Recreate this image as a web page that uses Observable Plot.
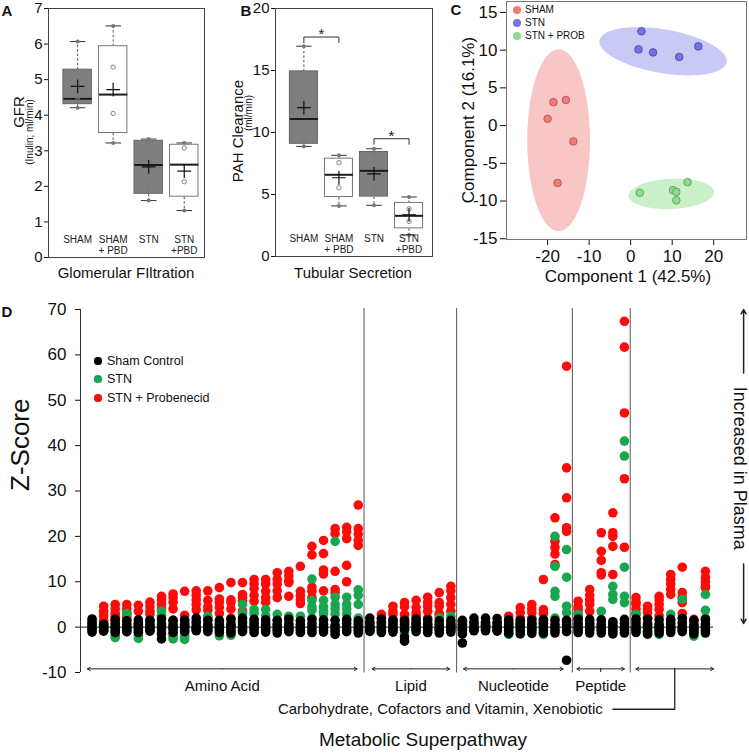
<!DOCTYPE html>
<html><head><meta charset="utf-8">
<script src="https://cdn.jsdelivr.net/npm/d3@7"></script>
<script src="https://cdn.jsdelivr.net/npm/@observablehq/plot@0.6"></script>
<style>
body{margin:0;background:#fff;font-family:"Liberation Sans",Arial,sans-serif;color:#111;}
#root{position:relative;width:749px;height:753px;overflow:hidden;background:#fff;}
.abs{position:absolute;white-space:nowrap;line-height:1;}
.pl{position:absolute;}
.pl svg{overflow:visible;}
</style></head><body><div id="root"></div>
<script>
// ---------- Panel A: GFR (Inulin) ----------
const boxGroups = ["SHAM", "SHAM\n+ PBD", "STN", "STN\n+PBD"];
const boxFilled = [true, false, true, false];
const gfrMin  = [4.21, 3.22, 1.60, 1.32];
const gfrQ1   = [4.31, 3.50, 1.79, 1.71];
const gfrMed  = [4.46, 4.58, 2.60, 2.61];
const gfrQ3   = [5.28, 5.94, 3.28, 3.17];
const gfrMax  = [6.07, 6.51, 3.33, 3.22];
const gfrMean = [4.81, 4.72, 2.55, 2.43];
const gfrPts  = [[4.42, 4.52], [5.35, 4.05], [3.25, 1.97], [3.08, 2.13]];
const gfrTicks = [0, 1, 2, 3, 4, 5, 6, 7];

// ---------- Panel B: PAH clearance ----------
const pahMin  = [8.88, 4.08, 4.13, 1.73];
const pahQ1   = [9.09, 4.80, 4.83, 2.27];
const pahMed  = [11.09, 6.59, 6.91, 3.28];
const pahQ3   = [14.93, 7.89, 8.43, 4.32];
const pahMax  = [16.96, 8.16, 8.69, 4.80];
const pahMean = [12.0, 6.35, 6.67, 3.35];
const pahPts  = [[12.9, 9.33], [7.57, 5.55], [8.21, 5.55], [3.84, 2.83]];
const pahTicks = [0, 5, 10, 15, 20];
const sigFrom = [1, 3];
const sigTo   = [2, 4];
const sigY    = [17.7, 9.5];

// ---------- Panel C: PCA ----------
const pcaGroups = ["SHAM", "STN", "STN + PROB"];
const pc1Sham = [-20.0, -18.6, -15.6, -13.8, -17.6];
const pc2Sham = [0.9, 3.1, 3.4, -2.1, -7.6];
const pc1Stn  = [2.6, 1.9, 5.4, 11.7, 16.3];
const pc2Stn  = [12.5, 10.1, 9.7, 9.1, 10.5];
const pc1Prob = [2.2, 10.2, 11.0, 11.0, 13.7];
const pc2Prob = [-8.9, -8.55, -8.8, -9.9, -7.5];
const pcaXTicks = [-20, -10, 0, 10, 20];
const pcaYTicks = [-15, -10, -5, 0, 5, 10, 15];
// ellipse centre and semi-axis vectors (data units)
const ellCx = [-17.35, 7.8, 9.8];
const ellCy = [-1.95, 9.85, -9.05];
const ellAx = [7.55, 15.3, 10.3];
const ellAy = [0, -1.45, 0.25];
const ellBx = [0, 0.9, -0.1];
const ellBy = [12.05, 2.85, 2.0];
const pcaFill   = ["#ef7b7b", "#7474e2", "#8ddc8d"];
const pcaStroke = ["#a84d4d", "#40409c", "#4e9c4e"];
const ellFill   = ["#f9c6c6", "#c9c9f6", "#caf0ca"];

// ---------- Panel D: metabolite Z-scores ----------
const pathwayNames = ["Amino Acid", "Lipid", "Nucleotide", "Peptide", "Carbohydrate, Cofactors and Vitamin, Xenobiotic"];
const pathwayCounts = [24, 8, 10, 5, 7];
const arrowFrom = [-0.4, 24.2, 32.1, 41.9, 47.0];
const arrowTo   = [22.9, 30.9, 40.7, 46.0, 53.7];
const zTicks = [-10, 0, 10, 20, 30, 40, 50, 60, 70];
const seriesNames = ["Sham Control", "STN", "STN + Probenecid"];
const seriesColors = ["#000000", "#1aa64f", "#ff0a0a"];
const shamZ = [
[1.8,0.9,0.1,-0.6,-1.1],[0.6,0.2,-0.3,-0.7,-0.9],[1.7,0.8,0,-0.7,-1.2],[1.4,0.5,-0.1,-0.5,-1.0],
[1.6,0.7,0,-0.6,-1.2],[1.5,0.5,0,-0.5,-0.9],[1.8,0.5,-0.3,-1.5,-2.6],[1.5,0.5,0,-0.5,-1.2],
[1.6,0.5,0,-0.5,-1.0],[2.0,1.0,0,-0.5,-0.8],[1.5,0.5,0,-0.5,-1.0],[1.5,0.5,0,-0.5,-1.2],
[1.7,0.5,0,-0.7,-1.3],[2.0,1.0,0,-0.5,-1.0],[1.7,0.8,0,-0.5,-1.2],[1.6,0.6,0,-0.6,-1.1],
[1.5,0.6,-0.1,-0.7,-1.3],[1.8,0.7,0,-0.5,-1.0],[1.4,0.5,-0.2,-0.7,-1.2],[1.7,0.8,0.1,-0.6,-1.2],
[1.6,0.6,-0.1,-0.6,-1.1],[1.5,0.4,-0.3,-0.9,-1.6],[1.7,0.8,0,-0.5,-1.0],[1.4,0.5,-0.2,-0.7,-1.3],
[2.0,1.0,0,-0.5,-0.9],[1.8,1.0,0,-0.7,-1.2],[1.6,0.7,0,-0.6,-1.1],[1.5,0.5,-0.5,-2.2,-3.1],
[1.8,0.8,0,-0.5,-1.0],[1.6,0.6,0,-0.6,-1.2],[1.4,0.5,-0.2,-0.7,-1.3],[1.5,0.6,0,-0.6,-1.1],
[1.5,0.5,-0.5,-1.5,-3.5],[2.0,1.0,0,-0.5,-0.8],[2.0,1.0,0.2,-0.4,-0.8],[1.9,1.0,0.1,-0.5,-0.9],
[1.6,0.7,0,-0.7,-1.4],[1.5,0.6,-0.1,-0.8,-1.5],[1.6,0.6,-0.2,-0.8,-1.4],[1.7,0.8,0,-0.6,-1.3],
[1.5,0.6,-0.1,-0.7,-1.3],[1.5,0.5,0,-1.0,-7.3],
[1.8,0.8,0,-0.6,-1.2],[1.7,0.8,0,-0.6,-1.3],[1.6,0.7,0,-0.7,-1.3],[1.2,0.4,-0.3,-0.9,-1.5],[1.7,0.8,0,-0.6,-1.3],
[1.8,0.9,0,-0.6,-1.2],[1.8,0.6,-0.2,-0.9,-1.5],[1.6,0.6,-0.1,-0.7,-1.3],[1.7,0.8,0,-0.6,-1.2],
[1.9,0.9,0.1,-0.5,-1.0],[1.5,0.4,-0.3,-0.9,-1.5],[1.7,0.7,-0.1,-0.7,-1.3]
];
const stnZ = [
[0.5,-0.5,0.2,1.0,-0.3],[0,0.3,-0.3,0.5,0],[-2.3,-1.8,0.5,-1.0,0],[3.0,1.0,0,-0.5,-1.0],
[-2.5,-1.8,-1.0,0,0.5],[1.0,0,0.5,-0.5,0],[3.5,2.5,1.0,0,-1.0],[-2.6,-2.0,-1.5,0,1.0],
[-2.7,-2.0,-1.0,0,0.5],[1.5,0.5,0,-0.5,0],[2.4,1.5,0.5,0,-0.5],[-1.9,-1.0,0,1.0,0.5],
[-1.8,-1.0,0,0.5,1.0],[5.0,3.0,1.5,0.5,0],[3.9,3.0,1.5,0.5,0],[3.9,2.5,1.0,0,-0.5],
[2.8,1.5,0.5,0,-0.5],[2.4,1.5,0.5,0,-0.5],[2.4,1.5,0.5,0,-0.3],[10.6,5.9,4.5,3.7,2.0],
[5.9,4.5,3.5,2.9,1.5],[18.9,6.6,5.0,4.0,2.9],[6.6,5.0,4.0,2.9,1.5],[8.2,7.0,5.0,2.0,1.0],
[-1.0,-0.5,0,0.5,0],[0.5,0,-0.5,1.0,0],[1.0,0.5,0,-0.5,0],[-1.2,-0.5,0,0.5,1.0],
[1.0,0.5,0,-0.5,0],[-1.2,-0.5,0,0.5,1.0],[2.0,1.0,0,-0.5,0.5],[2.4,1.0,0,-0.5,0.5],
[0,-0.5,0.5,0,-1.0],[0.5,0,-0.5,0.3,0],[0.5,0,-0.5,0.3,0],[0.5,0,-0.5,0.3,0],
[-1.6,-1.0,0,0.5,0],[0.5,0,-0.5,1.0,0],[0.5,0,-0.5,1.0,0],[-1.6,-1.0,0,0.5,0],
[20.0,13.4,7.9,6.8,2.0],[17.1,11.0,4.6,3.2,1.0],
[2.8,1.5,0.5,0,-0.5],[1.5,0.5,0,-0.5,0],[3.5,1.5,0.5,0,-0.5],[9.0,7.2,6.1,1.0,0],[41.0,37.7,13.2,6.8,5.4],
[2.8,1.5,0.5,0,-0.5],[-1.6,-1.0,0,0.5,0],[-1.6,-0.8,0,0.5,0],[2.8,1.5,0.5,0,-0.5],
[6.1,2.0,1.0,0,-0.5],[-2.0,-1.5,-0.5,0,0.5],[7.2,3.7,2.0,0.5,0]
];
const probZ = [
[1.0,0.5,0,1.5,-0.2],[4.6,3.5,2.5,1.5,1.0],[5.0,4.0,3.0,2.4,1.5],[5.0,4.0,3.2,2.5,1.8],
[4.8,3.5,1.0,0.5,0],[5.5,4.5,3.5,2.8,1.5],[6.8,6.0,5.0,4.0,2.5],[7.3,6.5,5.5,4.0,1.5],
[7.9,2.6,1.5,1.0,0.5],[8.0,7.0,6.0,5.0,3.8],[8.0,5.9,4.5,3.7,2.0],[8.7,6.2,5.5,4.4,3.0],
[9.8,6.0,5.4,4.0,2.0],[9.8,7.2,6.5,5.7,3.5],[10.5,9.5,8.5,7.0,5.7],[10.5,9.5,7.9,6.5,5.5],
[12.0,10.5,9.5,8.0,6.5],[12.3,11.3,10.3,9.8,6.8],[13.4,7.9,7.0,6.0,5.2],[17.8,15.9,8.8,7.9,6.5],
[19.1,16.2,12.6,11.7,8.0],[21.7,20.6,12.3,8.3,7.5],[22.0,21.0,19.5,13.6,10.0],[26.9,21.7,20.5,19.1,18.0],
[0.6,0,1.0,-0.3,0.3],[2.8,2.0,1.0,0.5,0],[4.6,3.5,2.8,1.5,1.0],[5.4,4.5,2.8,2.0,1.0],
[5.9,4.3,3.2,2.5,1.5],[6.6,5.5,4.6,3.5,2.0],[7.6,5.4,4.6,3.0,2.5],[9.0,8.0,6.5,5.0,3.5],
[1.3,0.5,0,-0.5,1.0],[0.5,0,1.0,0.3,0],[0.5,0,1.0,0.3,0],[0.5,0,1.0,0.3,0],
[2.4,1.5,1.0,0.5,0],[4.3,3.2,2.0,1.0,0.5],[5.0,4.0,3.2,2.0,1.0],[10.5,3.9,3.0,1.5,1.0],
[24.1,18.9,17.5,16.1,13.8],[57.5,35.1,28.5,21.9,21.1],
[5.7,4.5,3.9,3.0,2.0],[8.3,7.0,6.0,5.0,3.5],[20.8,16.7,14.7,12.0,11.5],[25.2,20.8,20.0,17.8,11.6],[67.4,61.7,47.2,32.7,17.6],
[6.5,5.5,5.0,4.0,3.0],[4.6,4.0,3.2,2.0,1.0],[6.8,6.0,5.0,3.9,2.5],[11.6,10.5,9.5,8.3,7.2],
[13.2,7.6,6.5,5.4,3.0],[1.7,1.0,0.5,0,-0.5],[12.3,11.0,10.0,9.0,8.7]
];

// ================= helpers =================
const FONT = '"Liberation Sans", Arial, Helvetica, sans-serif';
const plain = d => String(d);
const root = document.getElementById("root");
function place(node, left, top) {
  const d = document.createElement("div");
  d.className = "pl"; d.style.left = left + "px"; d.style.top = top + "px";
  d.appendChild(node); root.appendChild(d);
}
function label(txt, x, y, size, opts = {}) {
  const d = document.createElement("div");
  d.className = "abs"; d.textContent = txt;
  d.style.left = x + "px"; d.style.top = y + "px"; d.style.fontSize = size + "px";
  const ax = opts.anchor === "start" ? "0" : "-50%";
  if (opts.rot) {
    d.style.transformOrigin = "0 0";
    d.style.transform = `rotate(${opts.rot}deg) translate(-50%,-50%)`;
  } else {
    d.style.transform = `translate(${ax},-50%)`;
  }
  if (opts.bold) d.style.fontWeight = "bold";
  root.appendChild(d);
  return d;
}
function swatch(x, y, r, fill) {
  const d = document.createElement("div");
  d.className = "abs";
  d.style.left = (x - r) + "px"; d.style.top = (y - r) + "px";
  d.style.width = (2 * r) + "px"; d.style.height = (2 * r) + "px";
  d.style.borderRadius = "50%"; d.style.background = fill;
  root.appendChild(d);
}

// ================= box plot panels =================
function boxPanel(s, cfg) {
  const idx = d3.range(s.min.length);
  const X = i => i + 1;
  const pts = s.pts.flatMap((a, i) => a.map(v => ({x: i + 1, v})));
  const ends = idx.flatMap(i => [{x: i + 1, v: s.max[i]}, {x: i + 1, v: s.min[i]}]);
  const hw = 0.4, cw = 0.22;
  const marks = [
    Plot.link(idx, {x1: X, x2: X, y1: i => s.q3[i], y2: i => s.max[i], stroke: "#555", strokeDasharray: "2.5,2"}),
    Plot.link(idx, {x1: X, x2: X, y1: i => s.q1[i], y2: i => s.min[i], stroke: "#555", strokeDasharray: "2.5,2"}),
    Plot.link(ends, {x1: d => d.x - cw, x2: d => d.x + cw, y1: "v", y2: "v", stroke: "#333"}),
    Plot.dot(ends, {x: "x", y: "v", r: 2, fill: "#777"}),
    Plot.rect(idx.filter(i => boxFilled[i]), {x1: i => X(i) - hw, x2: i => X(i) + hw, y1: i => s.q1[i], y2: i => s.q3[i], fill: "#7f7f7f", stroke: "#666"}),
    Plot.rect(idx.filter(i => !boxFilled[i]), {x1: i => X(i) - hw, x2: i => X(i) + hw, y1: i => s.q1[i], y2: i => s.q3[i], fill: "#ffffff", stroke: "#777"}),
    Plot.link(idx, {x1: i => X(i) - hw, x2: i => X(i) + hw, y1: i => s.med[i], y2: i => s.med[i], stroke: "#1a1a1a", strokeWidth: 2}),
    Plot.dot(pts, {x: "x", y: "v", r: 2.2, stroke: "#777", fill: "none", strokeWidth: 0.9}),
    Plot.dot(idx, {x: X, y: i => s.mean[i], symbol: "plus", r: 4.5, stroke: "#111", strokeWidth: 1.2}),
    Plot.text(boxGroups, {x: (d, i) => i + 1, frameAnchor: "bottom", dy: -22, lineAnchor: "top", fontSize: 10, lineHeight: 1.1, fill: "#222"}),
    Plot.frame({stroke: "#444"}),
    ...(cfg.extra || [])
  ];
  return Plot.plot({
    width: cfg.width, height: cfg.height,
    marginLeft: cfg.mL, marginRight: cfg.mR, marginTop: cfg.mT, marginBottom: cfg.mB,
    x: {domain: cfg.xDomain, axis: null},
    y: {domain: [0, cfg.yMax], ticks: cfg.ticks, tickFormat: plain, tickSize: 4, tickPadding: 2, label: null},
    style: {fontFamily: FONT, fontSize: "15px", background: "transparent", color: "#111", overflow: "visible"},
    marks
  });
}

const panelA = boxPanel(
  {min: gfrMin, q1: gfrQ1, med: gfrMed, q3: gfrQ3, max: gfrMax, mean: gfrMean, pts: gfrPts},
  {width: 215, height: 290, mL: 48, mR: 11, mT: 8, mB: 33, xDomain: [0.18, 4.57], yMax: 7, ticks: gfrTicks}
);
place(panelA, 0, 0);

const sigIdx = d3.range(sigFrom.length);
const bracketPts = sigIdx.flatMap(k => [
  {k, x: sigFrom[k], y: sigY[k] - 0.45}, {k, x: sigFrom[k], y: sigY[k]},
  {k, x: sigTo[k], y: sigY[k]}, {k, x: sigTo[k], y: sigY[k] - 0.45}
]);
const panelB = boxPanel(
  {min: pahMin, q1: pahQ1, med: pahMed, q3: pahQ3, max: pahMax, mean: pahMean, pts: pahPts},
  {width: 230, height: 290, mL: 60, mR: 13, mT: 8, mB: 34, xDomain: [0.19, 4.67], yMax: 20, ticks: pahTicks,
   extra: [
     Plot.line(bracketPts, {x: "x", y: "y", z: "k", stroke: "#333", strokeWidth: 1}),
     Plot.text(sigIdx, {x: k => (sigFrom[k] + sigTo[k]) / 2, y: k => sigY[k], text: () => "*", dy: -3, fontSize: 15, fill: "#111"})
   ]}
);
place(panelB, 215, 0);

// ================= PCA panel =================
const pcaRows = [
  ...pc1Sham.map((v, i) => ({g: 0, x: v, y: pc2Sham[i]})),
  ...pc1Stn.map((v, i) => ({g: 1, x: v, y: pc2Stn[i]})),
  ...pc1Prob.map((v, i) => ({g: 2, x: v, y: pc2Prob[i]}))
];
const theta = d3.range(0, 2 * Math.PI, Math.PI / 60);
const ellRows = d3.range(3).flatMap(g => theta.map(t => ({
  g, x: ellCx[g] + ellAx[g] * Math.cos(t) + ellBx[g] * Math.sin(t),
  y: ellCy[g] + ellAy[g] * Math.cos(t) + ellBy[g] * Math.sin(t)
})));
const panelC = Plot.plot({
  width: 299, height: 300, marginLeft: 56, marginRight: 3, marginTop: 1, marginBottom: 61,
  x: {domain: [-29.9, 27.9], ticks: pcaXTicks, tickFormat: plain, tickSize: 6, tickPadding: 4, label: null},
  y: {domain: [-15.1, 16.45], ticks: pcaYTicks, tickFormat: plain, tickSize: 6, tickPadding: 3, label: null},
  style: {fontFamily: FONT, fontSize: "17px", background: "transparent", color: "#111", overflow: "visible"},
  marks: [
    ...d3.range(3).map(g => Plot.line(ellRows.filter(d => d.g === g), {x: "x", y: "y", fill: ellFill[g], stroke: null, curve: "linear-closed"})),
    ...d3.range(3).map(g => Plot.dot(pcaRows.filter(d => d.g === g), {x: "x", y: "y", r: 3.8, fill: pcaFill[g], stroke: pcaStroke[g], strokeWidth: 0.8})),
    Plot.frame({stroke: "#777"})
  ]
});
place(panelC, 450, 0);

// ================= Z-score panel =================
const starts = pathwayCounts.map((n, k) => d3.sum(pathwayCounts.slice(0, k)));
const seps = starts.slice(1).map(s => s - 0.5);
const nCols = d3.sum(pathwayCounts);
const zRows = [probZ, stnZ, shamZ].map(arr => arr.flatMap((vals, i) => vals.map(z => ({i, z}))));
const arrowY = -9.2;
const arrowIdx = d3.range(arrowFrom.length);
const mid = k => (arrowFrom[k] + arrowTo[k]) / 2;
const lastK = pathwayNames.length - 1;
const bracketY = -18.1;
const panelD = Plot.plot({
  width: 749, height: 453, marginLeft: 80, marginRight: 32.5, marginTop: 9, marginBottom: 81,
  x: {domain: [-1, nCols], axis: null},
  y: {domain: [-10, 70], ticks: zTicks, tickFormat: plain, tickSize: 5, tickPadding: 9, label: null},
  style: {fontFamily: FONT, fontSize: "17px", background: "transparent", color: "#111", overflow: "visible"},
  marks: [
    Plot.ruleX([-1], {y1: -10, y2: 70, stroke: "#333"}),
    Plot.ruleX(seps, {y1: -10.1, y2: 70.2, stroke: "#555", strokeWidth: 1}),
    Plot.ruleY([0], {x1: -1, x2: arrowTo[lastK], stroke: "#222", strokeWidth: 1}),
    Plot.dot(zRows[0], {x: "i", y: "z", r: 4.8, fill: seriesColors[2]}),
    Plot.dot(zRows[1], {x: "i", y: "z", r: 4.8, fill: seriesColors[1]}),
    Plot.dot(zRows[2], {x: "i", y: "z", r: 4.8, fill: seriesColors[0]}),
    Plot.arrow(arrowIdx, {x1: mid, x2: k => arrowFrom[k], y1: arrowY, y2: arrowY, headLength: 5, headAngle: 60, stroke: "#222", strokeWidth: 1}),
    Plot.arrow(arrowIdx, {x1: mid, x2: k => arrowTo[k], y1: arrowY, y2: arrowY, headLength: 5, headAngle: 60, stroke: "#222", strokeWidth: 1}),
    Plot.ruleX([mid(3)], {y1: arrowY, y2: arrowY - 0.8, stroke: "#222"}),
    Plot.line([{x: mid(lastK), y: arrowY}, {x: mid(lastK), y: bracketY}, {x: arrowFrom[3] + 3.1, y: bracketY}], {x: "x", y: "y", stroke: "#222", strokeWidth: 1.3}),
    Plot.text(pathwayNames.slice(0, lastK), {x: (d, k) => mid(k), y: -13, fontSize: 15, fill: "#111"}),
    Plot.text([pathwayNames[lastK]], {x: arrowFrom[3] + 3.1, y: bracketY, dx: -10, textAnchor: "end", fontSize: 15, fill: "#111"}),
    Plot.text(["Z-Score"], {frameAnchor: "left", dx: -60, rotate: -90, fontSize: 26, fill: "#111"}),
    Plot.text(["Increased in Plasma"], {x: 56.0, y: 35, rotate: 90, fontSize: 18, fill: "#111"}),
    Plot.arrow([0], {x1: 56.3, x2: 56.3, y1: 56, y2: 70, headLength: 5, headAngle: 60, stroke: "#222"}),
    Plot.arrow([0], {x1: 56.3, x2: 56.3, y1: 13.9, y2: 0.8, headLength: 5, headAngle: 60, stroke: "#222"})
  ]
});
place(panelD, 0, 300);

// ================= HTML text (titles, labels, legends) =================
label("A", 7, 10, 15, {bold: true});
label("B", 246, 10, 15, {bold: true});
label("C", 456, 9, 15, {bold: true});
label("D", 7, 311, 15, {bold: true});

label("GFR", 18, 112, 15, {rot: -90});
label("(Inulin; ml/min)", 30, 132, 10, {rot: -90});
label("PAH Clearance", 237, 131, 15, {rot: -90});
label("(ml/min)", 249, 113, 10, {rot: -90});
label("Glomerular FIltration", 126, 272, 15);
label("Tubular Secretion", 353, 272, 15);

label("Component 2 (16.1%)", 468, 120, 17, {rot: -90});
label("Component 1 (42.5%)", 628, 276, 17);
const cLegY = [10, 23, 36];
pcaGroups.forEach((g, k) => {
  swatch(517, cLegY[k], 4, pcaFill[k]);
  label(g, 525, cLegY[k], 10, {anchor: "start"});
});

const dLegY = [361, 379, 398];
seriesNames.forEach((s, k) => {
  swatch(98, dLegY[k], 3.6, seriesColors[k]);
  label(s, 107, dLegY[k], 12.5, {anchor: "start"});
});
label("Metabolic Superpathway", 423, 739, 19);
</script></body></html>
